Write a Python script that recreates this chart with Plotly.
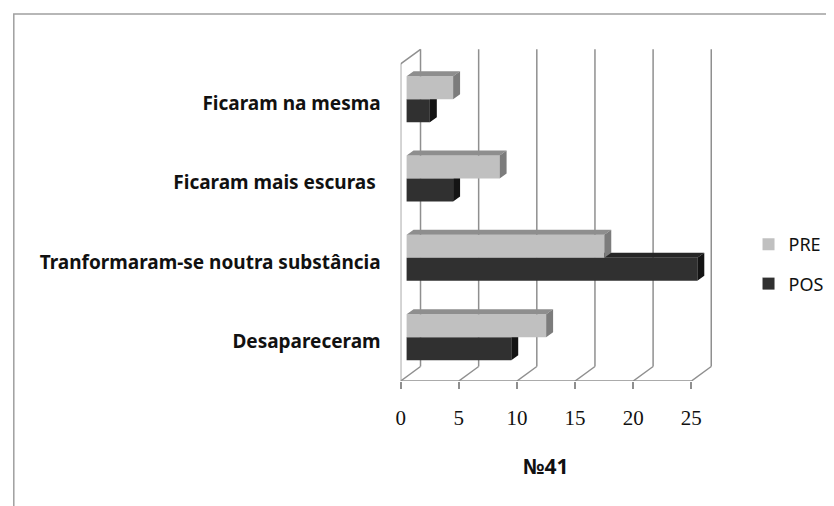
import plotly.graph_objects as go

# ---------------- data ----------------
categories = ["Desapareceram", "Tranformaram-se noutra substância",
              "Ficaram mais escuras ", "Ficaram na mesma"]
pre_values = [12, 17, 8, 4]
pos_values = [9, 25, 4, 2]
x_tick_values = [0, 5, 10, 15, 20, 25]
series_names = ["PRE", "POS"]
x_title = "№41"

# ---------------- geometry ----------------
OFF = 8                              # browser body margin
W, H = 834 - OFF, 506 - OFF
PX0, PX_UNIT = 398 - OFF, 11.7       # front plane: x=0 px, px per unit
PY_FLOOR, PY_CAT = 381 - OFF, 79.3   # front floor px, px per category
PX_RIGHT, PY_TOP = 716 - OFF, 48 - OFF

x_range = [0, (PX_RIGHT - PX0) / PX_UNIT]
y_range = [-0.5, (PY_FLOOR - PY_TOP) / PY_CAT - 0.5]
x_dom = [PX0 / W, PX_RIGHT / W]
y_dom = [1 - PY_FLOOR / H, 1 - PY_TOP / H]

DX, DY = 20 / PX_UNIT, 14.5 / PY_CAT         # wall depth
BX, BY = 6 / PX_UNIT, 4.2 / PY_CAT           # bar front-plane offset
DXB, DYB = 7 / PX_UNIT, 5 / PY_CAT           # bar depth
BH = 0.29                                    # bar thickness (category units)
n = len(categories)
y_floor, y_top = -0.5, n - 0.5

wall_col = "#8f8f8f"
colors = {"PRE": ("#c0c0c0", "#8e8e8e", "#7c7c7c"),
          "POS": ("#303030", "#262626", "#141414")}

fig = go.Figure()


def add_series(name, values, sign, xa, ya, rank):
    front, topc, sidec = colors[name]
    centers = [i + BY + sign * BH / 2 for i in range(n)]
    fig.add_trace(go.Bar(
        y=centers, x=values, base=BX, width=BH, orientation="h",
        marker=dict(color=front, line=dict(width=0)), name=name,
        xaxis=xa, yaxis=ya, legendgroup=name, legendrank=rank,
        hoverinfo="skip"))
    tx, ty, sx, sy = [], [], [], []
    for c, v in zip(centers, values):
        top, bot = c + BH / 2, c - BH / 2
        tx += [BX, BX + v, BX + v + DXB, BX + DXB, BX, None]
        ty += [top, top, top + DYB, top + DYB, top, None]
        sx += [BX + v, BX + v + DXB, BX + v + DXB, BX + v, BX + v, None]
        sy += [bot, bot + DYB, top + DYB, top, bot, None]
    for xs, ys, col in ((tx, ty, topc), (sx, sy, sidec)):
        fig.add_trace(go.Scatter(
            x=xs, y=ys, fill="toself", fillcolor=col, mode="lines",
            line=dict(width=0, color=col), showlegend=False,
            xaxis=xa, yaxis=ya, hoverinfo="skip"))


add_series("POS", pos_values, -1, "x", "y", 2)
add_series("PRE", pre_values, +1, "x2", "y2", 1)

# walls, gridlines, floor
shapes = []
line = dict(color=wall_col, width=1.5)
shapes.append(dict(type="line", x0=0, y0=y_floor, x1=0, y1=y_top))
shapes.append(dict(type="line", x0=0, y0=y_top, x1=DX, y1=y_top + DY))
for t in x_tick_values:
    shapes.append(dict(type="line", x0=t, y0=y_floor, x1=t + DX, y1=y_floor + DY))
    shapes.append(dict(type="line", x0=t + DX, y0=y_floor + DY, x1=t + DX, y1=y_top + DY))
shapes.append(dict(type="line", x0=0, y0=y_floor, x1=x_tick_values[-1], y1=y_floor))
for s in shapes:
    s.update(xref="x", yref="y", layer="below", line=line)
# outer frame
shapes.append(dict(type="rect", xref="paper", yref="paper", x0=0.8 / W,
                   x1=1.05, y0=-0.05, y1=1 - (14 - OFF) / H,
                   line=dict(color="#a0a0a0", width=1.5), layer="below"))

label_font = dict(family="Noto Sans", size=19, color="#111111", weight="bold")

fig.update_layout(
    width=W, height=H, autosize=False,
    margin=dict(l=0, r=0, t=0, b=0),
    paper_bgcolor="white", plot_bgcolor="rgba(0,0,0,0)",
    barmode="overlay", shapes=shapes,
    xaxis=dict(domain=x_dom, range=x_range, tickvals=x_tick_values,
               ticks="outside", ticklen=7, tickwidth=1.5, tickcolor=wall_col,
               showgrid=False, zeroline=False, showline=False,
               tickfont=dict(family="Liberation Serif", size=21, color="#111111"),
               ticklabelstandoff=11, fixedrange=True),
    yaxis=dict(domain=y_dom, range=y_range, tickvals=list(range(n)),
               ticktext=categories, ticks="", showgrid=False, zeroline=False,
               showline=False, tickfont=label_font, ticklabelstandoff=19,
               fixedrange=True),
    xaxis2=dict(domain=x_dom, range=x_range, overlaying="x", visible=False),
    yaxis2=dict(domain=y_dom, range=y_range, overlaying="y", visible=False),
    legend=dict(x=(748 - OFF) / W, y=1 - (226 - OFF) / H, xanchor="left", yanchor="top",
                font=dict(family="Noto Sans", size=18, color="#111111"),
                traceorder="grouped", tracegroupgap=13, bgcolor="rgba(0,0,0,0)"),
    annotations=[dict(text=x_title, x=(x_tick_values[0] + x_tick_values[-1]) / 2,
                      xref="x", y=1 - (466 - OFF) / H, yref="paper", yanchor="middle",
                      showarrow=False,
                      font=dict(family="Noto Sans", size=21, color="#111111",
                                weight="bold"))],
)

fig.write_html("out.html")
